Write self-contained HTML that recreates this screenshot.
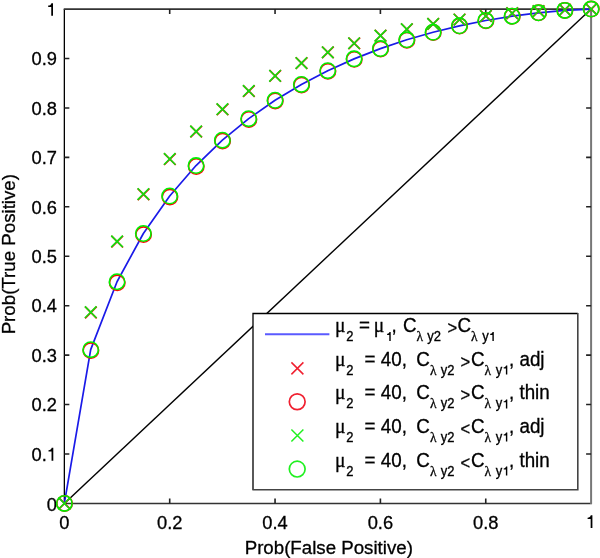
<!DOCTYPE html><html><head><meta charset="utf-8"><style>html,body{margin:0;padding:0;background:#fff;}svg{display:block;will-change:transform;}text{font-family:"Liberation Sans",sans-serif;stroke:#000;stroke-width:0.3px;}</style></head><body>
<svg width="600" height="558" viewBox="0 0 600 558">
<path d="M64.35 503.4V9.1" stroke="#000" stroke-width="1.3" fill="none"/>
<path d="M63.74999999999999 9.1H591.9" stroke="#333" stroke-width="1.6" fill="none"/>
<path d="M63.74999999999999 503.4H591.9" stroke="#333" stroke-width="1.5" fill="none"/>
<path d="M591.1 504.09999999999997V8.299999999999999" stroke="#777" stroke-width="2" fill="none"/>
<path d="M169.70 503.4v-5.0M169.70 9.1v5.0M275.05 503.4v-5.0M275.05 9.1v5.0M380.40 503.4v-5.0M380.40 9.1v5.0M485.75 503.4v-5.0M485.75 9.1v5.0M64.35 453.97h5.0M591.1 453.97h-5.0M64.35 404.54h5.0M591.1 404.54h-5.0M64.35 355.11h5.0M591.1 355.11h-5.0M64.35 305.68h5.0M591.1 305.68h-5.0M64.35 256.25h5.0M591.1 256.25h-5.0M64.35 206.82h5.0M591.1 206.82h-5.0M64.35 157.39h5.0M591.1 157.39h-5.0M64.35 107.96h5.0M591.1 107.96h-5.0M64.35 58.53h5.0M591.1 58.53h-5.0" stroke="#222" stroke-width="1.6" fill="none"/>
<line x1="64.35" y1="503.4" x2="591.1" y2="9.1" stroke="#000" stroke-width="1.4"/>
<text x="57" y="510.90" font-size="18.3" text-anchor="end">0</text>
<text x="31.6" y="460.67" font-size="18.3">0.</text>
<path d="M53.3 460.67V447.77H51.699999999999996C51.4 449.37 50.199999999999996 450.07 48.5 450.16999999999996V451.46999999999997H51.55V460.67Z" fill="#000"/>
<text x="57" y="411.24" font-size="18.3" text-anchor="end">0.2</text>
<text x="57" y="361.81" font-size="18.3" text-anchor="end">0.3</text>
<text x="57" y="312.38" font-size="18.3" text-anchor="end">0.4</text>
<text x="57" y="262.95" font-size="18.3" text-anchor="end">0.5</text>
<text x="57" y="213.52" font-size="18.3" text-anchor="end">0.6</text>
<text x="57" y="164.09" font-size="18.3" text-anchor="end">0.7</text>
<text x="57" y="114.66" font-size="18.3" text-anchor="end">0.8</text>
<text x="57" y="65.23" font-size="18.3" text-anchor="end">0.9</text>
<path d="M53.0 15.8V3.2H51.4C51.1 4.800000000000001 49.9 5.5 48.2 5.6V6.9H51.25V15.8Z" fill="#000"/>
<text x="64.35" y="528.5" font-size="18.3" text-anchor="middle">0</text>
<text x="169.70" y="528.5" font-size="18.3" text-anchor="middle">0.2</text>
<text x="275.05" y="528.5" font-size="18.3" text-anchor="middle">0.4</text>
<text x="380.40" y="528.5" font-size="18.3" text-anchor="middle">0.6</text>
<text x="485.75" y="528.5" font-size="18.3" text-anchor="middle">0.8</text>
<path d="M592.4 528.1V515.3H590.8C590.5 516.9 589.3 517.5999999999999 587.6 517.6999999999999V519.0H590.65V528.1Z" fill="#000"/>
<text x="328.8" y="553.8" font-size="18.7" text-anchor="middle">Prob(False Positive)</text>
<text transform="translate(15.3 254.2) rotate(-90)" font-size="18.7" text-anchor="middle">Prob(True Positive)</text>
<path d="M64.35 503.40 L90.69 349.64 L117.03 281.73 L143.36 233.51 L169.70 196.01 L196.04 165.55 L222.38 140.16 L248.71 118.65 L275.05 100.26 L301.39 84.41 L327.73 70.72 L354.06 58.87 L380.40 48.62 L406.74 39.80 L433.08 32.25 L459.41 25.85 L485.75 20.52 L512.09 16.18 L538.42 12.80 L564.76 10.38 L591.10 9.10" stroke="#1a1ae8" stroke-width="1.7" fill="none" stroke-linejoin="round"/>
<path d="M58.75 497.60L70.35 509.20M58.75 509.20L70.35 497.60M85.09 306.72L96.69 318.32M85.09 318.32L96.69 306.72M111.43 235.88L123.03 247.48M111.43 247.48L123.03 235.88M137.76 188.58L149.36 200.18M137.76 200.18L149.36 188.58M164.10 153.40L175.70 165.00M164.10 165.00L175.70 153.40M190.44 125.85L202.04 137.45M190.44 137.45L202.04 125.85M216.78 103.62L228.38 115.22M216.78 115.22L228.38 103.62M243.11 85.34L254.71 96.94M243.11 96.94L254.71 85.34M269.45 70.13L281.05 81.73M269.45 81.73L281.05 70.13M295.79 57.37L307.39 68.97M295.79 68.97L307.39 57.37M322.12 46.62L333.73 58.22M322.12 58.22L333.73 46.62M348.46 37.55L360.06 49.15M348.46 49.15L360.06 37.55M374.80 29.91L386.40 41.51M374.80 41.51L386.40 29.91M401.14 23.50L412.74 35.10M401.14 35.10L412.74 23.50M427.48 18.16L439.08 29.76M427.48 29.76L439.08 18.16M453.81 13.77L465.41 25.37M453.81 25.37L465.41 13.77M480.15 10.22L491.75 21.82M480.15 21.82L491.75 10.22M506.49 7.44L518.09 19.04M506.49 19.04L518.09 7.44M532.83 5.37L544.42 16.97M532.83 16.97L544.42 5.37M559.16 3.97L570.76 15.57M559.16 15.57L570.76 3.97M585.50 3.30L597.10 14.90M585.50 14.90L597.10 3.30" stroke="#ff0000" stroke-width="1.7" fill="none"/>
<circle cx="64.55" cy="503.40"  r="7.7" stroke="#ff0000" stroke-width="1.6" fill="none"/>
<circle cx="90.89" cy="350.60"  r="7.7" stroke="#ff0000" stroke-width="1.6" fill="none"/>
<circle cx="117.23" cy="282.80"  r="7.7" stroke="#ff0000" stroke-width="1.6" fill="none"/>
<circle cx="143.56" cy="234.59"  r="7.7" stroke="#ff0000" stroke-width="1.6" fill="none"/>
<circle cx="169.90" cy="197.05"  r="7.7" stroke="#ff0000" stroke-width="1.6" fill="none"/>
<circle cx="196.24" cy="166.51"  r="7.7" stroke="#ff0000" stroke-width="1.6" fill="none"/>
<circle cx="222.58" cy="141.05"  r="7.7" stroke="#ff0000" stroke-width="1.6" fill="none"/>
<circle cx="248.91" cy="119.46"  r="7.7" stroke="#ff0000" stroke-width="1.6" fill="none"/>
<circle cx="275.25" cy="100.98"  r="7.7" stroke="#ff0000" stroke-width="1.6" fill="none"/>
<circle cx="301.59" cy="85.06"  r="7.7" stroke="#ff0000" stroke-width="1.6" fill="none"/>
<circle cx="327.93" cy="71.28"  r="7.7" stroke="#ff0000" stroke-width="1.6" fill="none"/>
<circle cx="354.26" cy="59.35"  r="7.7" stroke="#ff0000" stroke-width="1.6" fill="none"/>
<circle cx="380.60" cy="49.03"  r="7.7" stroke="#ff0000" stroke-width="1.6" fill="none"/>
<circle cx="406.94" cy="40.13"  r="7.7" stroke="#ff0000" stroke-width="1.6" fill="none"/>
<circle cx="433.28" cy="32.52"  r="7.7" stroke="#ff0000" stroke-width="1.6" fill="none"/>
<circle cx="459.61" cy="26.06"  r="7.7" stroke="#ff0000" stroke-width="1.6" fill="none"/>
<circle cx="485.95" cy="20.67"  r="7.7" stroke="#ff0000" stroke-width="1.6" fill="none"/>
<circle cx="512.29" cy="16.28"  r="7.7" stroke="#ff0000" stroke-width="1.6" fill="none"/>
<circle cx="538.62" cy="12.85"  r="7.7" stroke="#ff0000" stroke-width="1.6" fill="none"/>
<circle cx="564.96" cy="10.40"  r="7.7" stroke="#ff0000" stroke-width="1.6" fill="none"/>
<circle cx="591.30" cy="9.10"  r="7.7" stroke="#ff0000" stroke-width="1.6" fill="none"/>
<path d="M58.55 497.60L70.15 509.20M58.55 509.20L70.15 497.60M84.89 306.44L96.49 318.04M84.89 318.04L96.49 306.44M111.23 235.59L122.83 247.19M111.23 247.19L122.83 235.59M137.56 188.30L149.16 199.90M137.56 199.90L149.16 188.30M163.90 153.14L175.50 164.74M163.90 164.74L175.50 153.14M190.24 125.62L201.84 137.22M190.24 137.22L201.84 125.62M216.58 103.41L228.18 115.01M216.58 115.01L228.18 103.41M242.91 85.16L254.51 96.76M242.91 96.76L254.51 85.16M269.25 69.97L280.85 81.57M269.25 81.57L280.85 69.97M295.59 57.23L307.19 68.83M295.59 68.83L307.19 57.23M321.93 46.50L333.53 58.10M321.93 58.10L333.53 46.50M348.26 37.45L359.86 49.05M348.26 49.05L359.86 37.45M374.60 29.82L386.20 41.42M374.60 41.42L386.20 29.82M400.94 23.43L412.54 35.03M400.94 35.03L412.54 23.43M427.28 18.11L438.88 29.71M427.28 29.71L438.88 18.11M453.61 13.73L465.21 25.33M453.61 25.33L465.21 13.73M479.95 10.20L491.55 21.80M479.95 21.80L491.55 10.20M506.29 7.43L517.89 19.03M506.29 19.03L517.89 7.43M532.62 5.36L544.22 16.96M532.62 16.96L544.22 5.36M558.96 3.96L570.56 15.56M558.96 15.56L570.56 3.96M585.30 3.30L596.90 14.90M585.30 14.90L596.90 3.30" stroke="#10e010" stroke-width="1.6" fill="none"/>
<circle cx="64.35" cy="503.40" r="7.7" stroke="#00f000" stroke-width="1.6" fill="none"/>
<circle cx="90.69" cy="349.64" r="7.7" stroke="#00f000" stroke-width="1.6" fill="none"/>
<circle cx="117.03" cy="281.73" r="7.7" stroke="#00f000" stroke-width="1.6" fill="none"/>
<circle cx="143.36" cy="233.51" r="7.7" stroke="#00f000" stroke-width="1.6" fill="none"/>
<circle cx="169.70" cy="196.01" r="7.7" stroke="#00f000" stroke-width="1.6" fill="none"/>
<circle cx="196.04" cy="165.55" r="7.7" stroke="#00f000" stroke-width="1.6" fill="none"/>
<circle cx="222.38" cy="140.16" r="7.7" stroke="#00f000" stroke-width="1.6" fill="none"/>
<circle cx="248.71" cy="118.65" r="7.7" stroke="#00f000" stroke-width="1.6" fill="none"/>
<circle cx="275.05" cy="100.26" r="7.7" stroke="#00f000" stroke-width="1.6" fill="none"/>
<circle cx="301.39" cy="84.41" r="7.7" stroke="#00f000" stroke-width="1.6" fill="none"/>
<circle cx="327.73" cy="70.72" r="7.7" stroke="#00f000" stroke-width="1.6" fill="none"/>
<circle cx="354.06" cy="58.87" r="7.7" stroke="#00f000" stroke-width="1.6" fill="none"/>
<circle cx="380.40" cy="48.62" r="7.7" stroke="#00f000" stroke-width="1.6" fill="none"/>
<circle cx="406.74" cy="39.80" r="7.7" stroke="#00f000" stroke-width="1.6" fill="none"/>
<circle cx="433.08" cy="32.25" r="7.7" stroke="#00f000" stroke-width="1.6" fill="none"/>
<circle cx="459.41" cy="25.85" r="7.7" stroke="#00f000" stroke-width="1.6" fill="none"/>
<circle cx="485.75" cy="20.52" r="7.7" stroke="#00f000" stroke-width="1.6" fill="none"/>
<circle cx="512.09" cy="16.18" r="7.7" stroke="#00f000" stroke-width="1.6" fill="none"/>
<circle cx="538.42" cy="12.80" r="7.7" stroke="#00f000" stroke-width="1.6" fill="none"/>
<circle cx="564.76" cy="10.38" r="7.7" stroke="#00f000" stroke-width="1.6" fill="none"/>
<circle cx="591.10" cy="9.10" r="7.7" stroke="#00f000" stroke-width="1.6" fill="none"/>
<rect x="253" y="313.5" width="324.79999999999995" height="176.2" fill="#fff"/>
<path d="M253 489.7V313.5H577.8" stroke="#000" stroke-width="1.3" fill="none"/>
<path d="M577.8 312.9V489.7H252.4" stroke="#444" stroke-width="1.6" fill="none"/>
<line x1="265.0" y1="334.3" x2="329.4" y2="334.3" stroke="#5a5aff" stroke-width="2"/>
<path d="M291.40 362.40L303.40 374.40M291.40 374.40L303.40 362.40" stroke="#f02030" stroke-width="1.5" fill="none"/>
<circle cx="297.2" cy="401.7" r="7.9" stroke="#f02030" stroke-width="1.7" fill="none"/>
<path d="M291.40 429.50L303.40 441.50M291.40 441.50L303.40 429.50" stroke="#20f020" stroke-width="1.5" fill="none"/>
<circle cx="297.2" cy="469.1" r="7.9" stroke="#20f020" stroke-width="1.7" fill="none"/>
<g transform="translate(0 332.0) scale(1 1.07)">
<text x="335.0" y="0" font-size="19.5" style='font-family:"Liberation Serif", serif'>μ</text>
<text x="346.2" y="8.41" font-size="13.0">2</text>
<text x="359.1" y="0" font-size="18.8" xml:space="preserve">=</text>
<text x="373.7" y="0" font-size="19.5" style='font-family:"Liberation Serif", serif'>μ</text>
<path d="M390.70 8.41V0.00H389.45C389.20 1.10 388.40 1.60 387.10 1.70V2.70H389.30V8.41Z" fill="#000"/>
<text x="391.5" y="0" font-size="18.8" xml:space="preserve">,</text>
<text x="402.9" y="0" font-size="18.8" xml:space="preserve">C</text>
<text x="416.5" y="8.41" font-size="13.5" style='font-family:"Liberation Serif", serif'>λ</text>
<text x="427.3" y="8.41" font-size="13.0">y2</text>
<text x="447.4" y="1.9" font-size="16.5" xml:space="preserve">&gt;</text>
<text x="457.4" y="0" font-size="18.8" xml:space="preserve">C</text>
<text x="471.0" y="8.41" font-size="13.5" style='font-family:"Liberation Serif", serif'>λ</text>
<text x="482.3" y="8.41" font-size="13.0">y</text>
<path d="M493.80 8.41V0.00H492.55C492.30 1.10 491.50 1.60 490.20 1.70V2.70H492.40V8.41Z" fill="#000"/>
</g>
<g transform="translate(0 365.5) scale(1 1.07)">
<text x="335.0" y="0" font-size="19.5" style='font-family:"Liberation Serif", serif'>μ</text>
<text x="346.2" y="8.41" font-size="13.0">2</text>
<text x="364.6" y="0" font-size="18.8" xml:space="preserve">= 40,</text>
<text x="416.2" y="0" font-size="18.8" xml:space="preserve">C</text>
<text x="430.0" y="8.41" font-size="13.5" style='font-family:"Liberation Serif", serif'>λ</text>
<text x="440.8" y="8.41" font-size="13.0">y2</text>
<text x="460.4" y="1.9" font-size="16.5" xml:space="preserve">&gt;</text>
<text x="470.9" y="0" font-size="18.8" xml:space="preserve">C</text>
<text x="484.5" y="8.41" font-size="13.5" style='font-family:"Liberation Serif", serif'>λ</text>
<text x="495.8" y="8.41" font-size="13.0">y</text>
<path d="M507.30 8.41V0.00H506.05C505.80 1.10 505.00 1.60 503.70 1.70V2.70H505.90V8.41Z" fill="#000"/>
<text x="509.0" y="0" font-size="18.8" xml:space="preserve">, adj</text>
</g>
<g transform="translate(0 399.4) scale(1 1.07)">
<text x="335.0" y="0" font-size="19.5" style='font-family:"Liberation Serif", serif'>μ</text>
<text x="346.2" y="8.41" font-size="13.0">2</text>
<text x="364.6" y="0" font-size="18.8" xml:space="preserve">= 40,</text>
<text x="416.2" y="0" font-size="18.8" xml:space="preserve">C</text>
<text x="430.0" y="8.41" font-size="13.5" style='font-family:"Liberation Serif", serif'>λ</text>
<text x="440.8" y="8.41" font-size="13.0">y2</text>
<text x="460.4" y="1.9" font-size="16.5" xml:space="preserve">&gt;</text>
<text x="470.9" y="0" font-size="18.8" xml:space="preserve">C</text>
<text x="484.5" y="8.41" font-size="13.5" style='font-family:"Liberation Serif", serif'>λ</text>
<text x="495.8" y="8.41" font-size="13.0">y</text>
<path d="M507.30 8.41V0.00H506.05C505.80 1.10 505.00 1.60 503.70 1.70V2.70H505.90V8.41Z" fill="#000"/>
<text x="509.0" y="0" font-size="18.8" xml:space="preserve">, thin</text>
</g>
<g transform="translate(0 432.6) scale(1 1.07)">
<text x="335.0" y="0" font-size="19.5" style='font-family:"Liberation Serif", serif'>μ</text>
<text x="346.2" y="8.41" font-size="13.0">2</text>
<text x="364.6" y="0" font-size="18.8" xml:space="preserve">= 40,</text>
<text x="416.2" y="0" font-size="18.8" xml:space="preserve">C</text>
<text x="430.0" y="8.41" font-size="13.5" style='font-family:"Liberation Serif", serif'>λ</text>
<text x="440.8" y="8.41" font-size="13.0">y2</text>
<text x="460.4" y="1.9" font-size="16.5" xml:space="preserve">&lt;</text>
<text x="470.9" y="0" font-size="18.8" xml:space="preserve">C</text>
<text x="484.5" y="8.41" font-size="13.5" style='font-family:"Liberation Serif", serif'>λ</text>
<text x="495.8" y="8.41" font-size="13.0">y</text>
<path d="M507.30 8.41V0.00H506.05C505.80 1.10 505.00 1.60 503.70 1.70V2.70H505.90V8.41Z" fill="#000"/>
<text x="509.0" y="0" font-size="18.8" xml:space="preserve">, adj</text>
</g>
<g transform="translate(0 466.6) scale(1 1.07)">
<text x="335.0" y="0" font-size="19.5" style='font-family:"Liberation Serif", serif'>μ</text>
<text x="346.2" y="8.41" font-size="13.0">2</text>
<text x="364.6" y="0" font-size="18.8" xml:space="preserve">= 40,</text>
<text x="416.2" y="0" font-size="18.8" xml:space="preserve">C</text>
<text x="430.0" y="8.41" font-size="13.5" style='font-family:"Liberation Serif", serif'>λ</text>
<text x="440.8" y="8.41" font-size="13.0">y2</text>
<text x="460.4" y="1.9" font-size="16.5" xml:space="preserve">&lt;</text>
<text x="470.9" y="0" font-size="18.8" xml:space="preserve">C</text>
<text x="484.5" y="8.41" font-size="13.5" style='font-family:"Liberation Serif", serif'>λ</text>
<text x="495.8" y="8.41" font-size="13.0">y</text>
<path d="M507.30 8.41V0.00H506.05C505.80 1.10 505.00 1.60 503.70 1.70V2.70H505.90V8.41Z" fill="#000"/>
<text x="509.0" y="0" font-size="18.8" xml:space="preserve">, thin</text>
</g>
</svg></body></html>
